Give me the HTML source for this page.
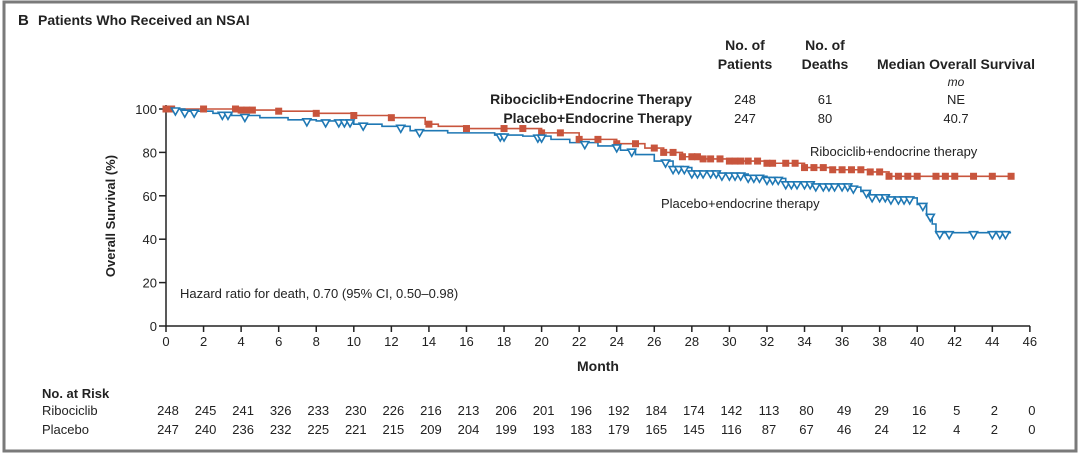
<!DOCTYPE html>
<html><head><meta charset="utf-8"><style>
html,body{margin:0;padding:0;background:#fff;width:1080px;height:458px;overflow:hidden}
svg text{font-family:"Liberation Sans",sans-serif;fill:#222}
</style></head><body>
<svg id="s" width="1080" height="458" xmlns="http://www.w3.org/2000/svg">
<rect x="0" y="0" width="1080" height="458" fill="#fff"/>
<rect x="4" y="2" width="1072" height="449" fill="none" stroke="#7a7a7a" stroke-width="3"/>
<text x="18" y="25" font-size="15" font-weight="bold">B</text>
<text x="38" y="25" font-size="14" font-weight="bold">Patients Who Received an NSAI</text>
<g font-size="14" font-weight="bold" text-anchor="middle">
<text x="745" y="50">No. of</text><text x="745" y="69">Patients</text>
<text x="825" y="50">No. of</text><text x="825" y="69">Deaths</text>
<text x="956" y="69">Median Overall Survival</text>
</g>
<text x="956" y="86" font-size="12" font-style="italic" text-anchor="middle">mo</text>
<g font-size="14" font-weight="bold" text-anchor="end">
<text x="692" y="104">Ribociclib+Endocrine Therapy</text>
<text x="692" y="123">Placebo+Endocrine Therapy</text>
</g>
<g font-size="13" text-anchor="middle">
<text x="745" y="104">248</text><text x="825" y="104">61</text><text x="956" y="104">NE</text>
<text x="745" y="123">247</text><text x="825" y="123">80</text><text x="956" y="123">40.7</text>
</g>
<g id="ax" stroke="#222" stroke-width="1.5" fill="none"></g>
<g id="ser"></g>
<text x="810" y="156" font-size="13">Ribociclib+endocrine therapy</text>
<text x="661" y="208" font-size="13">Placebo+endocrine therapy</text>
<text x="180" y="298" font-size="13">Hazard ratio for death, 0.70 (95% CI, 0.50–0.98)</text>
<text transform="translate(115,216) rotate(-90)" font-size="13" font-weight="bold" text-anchor="middle">Overall Survival (%)</text>
<text x="598" y="371" font-size="14" font-weight="bold" text-anchor="middle">Month</text>
<text x="42" y="398" font-size="13" font-weight="bold">No. at Risk</text>
<text x="42" y="415" font-size="13">Ribociclib</text>
<text x="42" y="434" font-size="13">Placebo</text>
<g id="risk" font-size="13" text-anchor="middle"></g>
</svg>
<script>
const NS="http://www.w3.org/2000/svg";
const X=m=>166+m*18.78, Y=v=>326-2.17*v;
function el(p,t,a,txt){const e=document.createElementNS(NS,t);for(const k in a)e.setAttribute(k,a[k]);if(txt!=null)e.textContent=txt;document.getElementById(p).appendChild(e);return e;}
el("ax","line",{x1:166,y1:105,x2:166,y2:326});
el("ax","line",{x1:166,y1:326,x2:1030,y2:326});
for(let v=0;v<=100;v+=20){el("ax","line",{x1:159,y1:Y(v),x2:166,y2:Y(v)});el("s","text",{x:157,y:Y(v)+5,"font-size":13,"text-anchor":"end"},v);}
for(let m=0;m<=46;m+=2){el("ax","line",{x1:X(m),y1:326,x2:X(m),y2:332});el("s","text",{x:X(m),y:346,"font-size":13,"text-anchor":"middle"},m);}
const R=[[0,100],[4,99.5],[6,99],[8,98],[10,97],[12,96],[13.3,96],[13.8,93],[14.5,92],[16,91],[20,89],[22,86],[24,84],[25.5,82],[26.5,80],[27.5,78],[28.5,77],[30,76],[32,75],[34,73],[35.5,72],[37.5,71],[38.5,69],[45,69]];
const B=[[0,100],[1,99],[2.5,98],[3.5,97],[5,96],[6.5,95],[8,94.5],[10,93],[11.5,92],[13,90],[14.2,90],[15,89],[16,89],[17.5,88],[19,87.5],[20.5,86],[21.5,84.5],[23,83],[24.2,81],[25,79],[26,76],[27,73],[28,71],[29.5,70],[31,69],[32,68],[33,66],[34.5,65],[36.5,64],[37,62],[37.5,60],[38.5,59],[39.5,59],[40,56],[40.5,51],[40.8,47],[41,43],[45,43]];
function path(d,c){let s="M"+X(d[0][0])+","+Y(d[0][1]);for(let i=1;i<d.length;i++){s+="H"+X(d[i][0])+"V"+Y(d[i][1]);}el("ser","path",{d:s,fill:"none",stroke:c,"stroke-width":1.6});}
function val(d,m){let v=d[0][1];for(const p of d)if(p[0]<=m)v=p[1];return v;}
path(R,"#c8553d");path(B,"#1f78b4");
const rm=[0,0.3,2,3.7,4,4.3,4.6,6,8,10,12,14,16,18,19,20,21,22,23,24,25,26,26.5,27,27.5,28,28.3,28.6,29,29.5,30,30.3,30.6,31,31.5,32,32.3,33,33.5,34,34.5,35,35.5,36,36.5,37,37.5,38,38.5,39,39.5,40,41,41.5,42,43,44,45];
rm.forEach(m=>{const v=val(R,m);el("ser","rect",{x:X(m)-3.5,y:Y(v)-3.5,width:7,height:7,fill:"#c8553d"});});
const bm=[0.5,1,1.5,3,3.3,4.2,7.5,8.5,9.2,9.5,9.8,10.5,12.5,13.5,17.8,18,19.8,20,22.3,24,24.8,26.6,27,27.3,27.6,28,28.3,28.6,29,29.3,29.6,30,30.3,30.6,31,31.3,31.6,32,32.3,32.6,33,33.3,33.6,34,34.3,34.6,35,35.3,35.6,36,36.3,36.6,37.3,37.6,38,38.3,38.6,39,39.3,39.6,40.3,40.7,41.2,41.7,43,44,44.4,44.7];
bm.forEach(m=>{const v=val(B,m);const x=X(m),y=Y(v);el("ser","path",{d:`M${x-4},${y-1}L${x+4},${y-1}L${x},${y+6}Z`,fill:"#fff",stroke:"#1f78b4","stroke-width":1.6});});
const r1=[248,245,241,326,233,230,226,216,213,206,201,196,192,184,174,142,113,80,49,29,16,5,2,0];
const r2=[247,240,236,232,225,221,215,209,204,199,193,183,179,165,145,116,87,67,46,24,12,4,2,0];
r1.forEach((n,i)=>{el("risk","text",{x:X(i*2)+2,y:415},n);el("risk","text",{x:X(i*2)+2,y:434},r2[i]);});
</script>
</body></html>
